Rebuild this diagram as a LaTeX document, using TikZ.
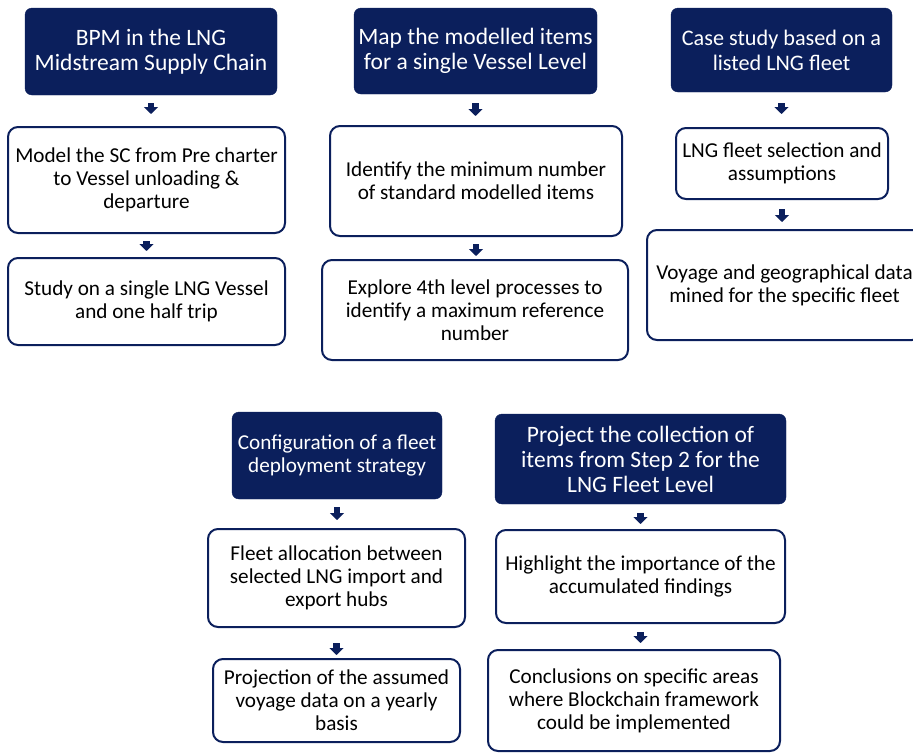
\documentclass[tikz,border=0pt]{standalone}
\usepackage{fontspec}
\setmainfont{Carlito}
\usetikzlibrary{arrows.meta}
\definecolor{NavyBox}{HTML}{0B1F5C}
\tikzset{
  darkbox/.style={draw=NavyBox, fill=NavyBox, text=white, rounded corners=7pt,
    align=center, inner sep=0pt, font=\fontsize{23.5}{25}\selectfont},
  whitebox/.style={draw=NavyBox, line width=2pt, fill=white, rounded corners=10pt,
    align=center, inner sep=0pt, font=\fontsize{21.2}{23}\selectfont},
  flowarrow/.style={NavyBox, line width=6.5pt, -{Triangle[width=14pt,length=7pt]}}
}

\begin{document}
\begin{tikzpicture}[x=1pt, y=-1pt]
        \useasboundingbox (0,0) rectangle (913,753);
        %Cot 1
        \node[darkbox, minimum width=252pt, minimum height=87pt] (a1) at (151,51.5) {BPM in the LNG\\Midstream Supply Chain};
        \node[whitebox, minimum width=277pt, minimum height=106pt] (b1) at (146.5,180) {Model the SC from Pre charter\\to Vessel unloading \&\\departure};
        \node[whitebox, minimum width=277pt, minimum height=87pt] (c1) at (146.5,301.5) {Study on a single LNG Vessel\\and one half trip};
        %Cot 2
        \node[darkbox, minimum width=243pt, minimum height=86pt] (a2) at (475.5,51) {Map the modelled items\\for a single Vessel Level};
        \node[whitebox, minimum width=292pt, minimum height=110pt] (b2) at (476,181) {Identify the minimum number\\of standard modelled items};
        \node[whitebox, minimum width=306pt, minimum height=100pt] (c2) at (475,310) {Explore 4th level processes to\\identify a maximum reference\\number};
        %Cot 3
        \node[darkbox, font=\fontsize{22.2}{25}\selectfont, minimum width=221pt, minimum height=84pt] (a3) at (781.5,50) {Case study based on a\\listed LNG fleet};
        \node[whitebox, minimum width=212pt, minimum height=71pt] (b3) at (782,163.5) {LNG fleet selection and\\assumptions};
        \node[whitebox, minimum width=275pt, minimum height=110pt] (c3) at (784.5,285) {Voyage and geographical data\\mined for the specific fleet};
        %Hang duoi
        \node[darkbox, font=\fontsize{21.2}{23}\selectfont, minimum width=210pt, minimum height=87pt] (a4) at (337,455.5) {Configuration of a fleet\\deployment strategy};
        \node[whitebox, minimum width=257pt, minimum height=98pt] (b4) at (336.5,578) {Fleet allocation between\\selected LNG import and\\export hubs};
        \node[whitebox, minimum width=247pt, minimum height=83pt] (c4) at (336.5,700.5) {Projection of the assumed\\voyage data on a yearly\\basis};
        \node[darkbox, minimum width=291pt, minimum height=90pt] (a5) at (640.5,459) {Project the collection of\\items from Step 2 for the\\LNG Fleet Level};
        \node[whitebox, minimum width=289pt, minimum height=93pt] (b5) at (640.5,576.5) {Highlight the importance of the\\accumulated findings};
        \node[whitebox, minimum width=292pt, minimum height=101pt] (c5) at (634,700.5) {Conclusions on specific areas\\where Blockchain framework\\could be implemented};
        %Mui ten
        \draw[flowarrow, shorten <=8pt, shorten >=12pt] (a1.south) -- (a1.south |- b1.north);
        \draw[flowarrow, shorten <=7pt, shorten >=6pt] (b1.south) -- (b1.south |- c1.north);
        \draw[flowarrow, shorten <=9pt, shorten >=9pt] (a2.south) -- (a2.south |- b2.north);
        \draw[flowarrow, shorten <=7pt, shorten >=3pt] (b2.south) -- (b2.south |- c2.north);
        \draw[flowarrow, shorten <=11pt, shorten >=13pt] (a3.south) -- (a3.south |- b3.north);
        \draw[flowarrow, shorten <=9pt, shorten >=7pt] (b3.south) -- (b3.south |- c3.north);
        \draw[flowarrow, shorten <=8pt, shorten >=8pt] (a4.south) -- (a4.south |- b4.north);
        \draw[flowarrow, shorten <=15pt, shorten >=3pt] (b4.south) -- (b4.south |- c4.north);
        \draw[flowarrow, shorten <=9pt, shorten >=5pt] (a5.south) -- (a5.south |- b5.north);
        \draw[flowarrow, shorten <=8pt, shorten >=6pt] (b5.south) -- (b5.south |- c5.north);
\end{tikzpicture}
\end{document}
